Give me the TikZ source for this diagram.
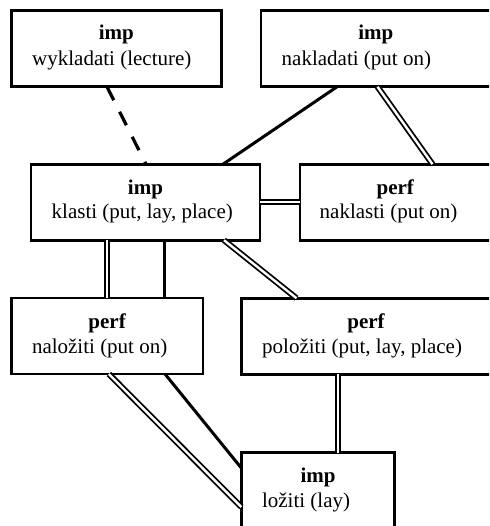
\documentclass[tikz,border=0pt]{standalone}
\usepackage{fontspec}
\setmainfont{Liberation Serif}
\begin{document}
\begin{tikzpicture}[x=1pt,y=-1pt,font=\fontsize{21}{25}\selectfont]
\tikzset{
  box/.style={draw, rectangle, line width=2.8pt, inner sep=0pt, outer sep=0pt,
              anchor=north west, minimum height=76pt},
  ttl/.style={font=\fontsize{21}{25}\selectfont\bfseries, anchor=base, inner sep=0pt},
  wrd/.style={anchor=base west, inner sep=0pt},
  plain/.style={line width=3pt},
  dbl/.style={double, line width=1.8pt, double distance=2.4pt},
  dashlink/.style={line width=3.2pt, dash pattern=on 15pt off 13pt},
}
\useasboundingbox (0,0) rectangle (489,526);
\clip (0,0) rectangle (489,526);

% verb boxes (the right-hand column runs past the page edge)
\node[box, minimum width=209.8pt] (wyk) at (11.5,10.8) {};
\node[box, minimum width=232pt]   (nak) at (261,10.8) {};
\node[box, minimum width=229pt]   (kla) at (31,164.2) {};
\node[box, minimum width=193pt]   (nkl) at (300,164.2) {};
\node[box, minimum width=191.7pt] (nal) at (11.3,298) {};
\node[box, minimum width=251.5pt] (pol) at (241.5,298.2) {};
\node[box, minimum width=153.4pt, minimum height=80pt] (loz) at (241.3,452.5) {};

% aspect labels, centred on each box
\node[ttl] (wykT) at ([xshift=0pt,yshift=-29pt]wyk.north) {imp};
\node[ttl] (nakT) at ([xshift=-1.25pt,yshift=-29pt]nak.north) {imp};
\node[ttl] (klaT) at ([yshift=-30pt]kla.north) {imp};
\node[ttl] (nklT) at ([xshift=-1.25pt,yshift=-30pt]nkl.north) {perf};
\node[ttl] (nalT) at ([yshift=-30pt]nal.north) {perf};
\node[ttl] (polT) at ([xshift=-1.25pt,yshift=-30pt]pol.north) {perf};
\node[ttl] (lozT) at ([yshift=-30pt]loz.north west -| loz.north) {imp};

% verbs with glosses
\node[wrd] (wykW) at ([xshift=20.5pt,yshift=-55pt]wyk.north west) {wykladati (lecture)};
\node[wrd] (nakW) at ([xshift=20.5pt,yshift=-55pt]nak.north west) {nakladati (put on)};
\node[wrd] (klaW) at ([xshift=20.5pt,yshift=-54pt]kla.north west) {klasti (put, lay, place)};
\node[wrd] (nklW) at ([xshift=19.5pt,yshift=-54pt]nkl.north west) {naklasti (put on)};
\node[wrd] (nalW) at ([xshift=20.5pt,yshift=-55pt]nal.north west) {naložiti (put on)};
\node[wrd] (polW) at ([xshift=20.5pt,yshift=-55pt]pol.north west) {položiti (put, lay, place)};
\node[wrd] (lozW) at ([xshift=20.5pt,yshift=-55pt]loz.north west) {ložiti (lay)};

% links
\draw[dashlink] ([xshift=95.5pt]wyk.south west) -- ([xshift=115pt]kla.north west);
\draw[plain] ([xshift=76pt]nak.south west) -- ([xshift=192pt]kla.north west);
\draw[dbl] ([xshift=116.5pt]nak.south west) -- ([xshift=132.5pt]nkl.north west);
\draw[dbl] (kla.east) -- (kla.east -| nkl.west);
\draw[dbl] ([xshift=76pt]kla.south west) -- ([xshift=76pt]kla.south west |- nal.north);
\draw[plain] ([xshift=133pt]kla.south west) -- ([xshift=133pt]kla.south west |- nal.north);
\draw[dbl] ([xshift=193pt]kla.south west) -- ([xshift=55pt]pol.north west);
\draw[dbl] ([xshift=97.5pt]nal.south west) -- ([yshift=-54.5pt]loz.north west);
\draw[plain] ([xshift=153.7pt]nal.south west) -- ([yshift=-15.5pt]loz.north west);
\draw[dbl] ([xshift=96.4pt]pol.south west) -- ([xshift=96.4pt]pol.south west |- loz.north);
\end{tikzpicture}
\end{document}
